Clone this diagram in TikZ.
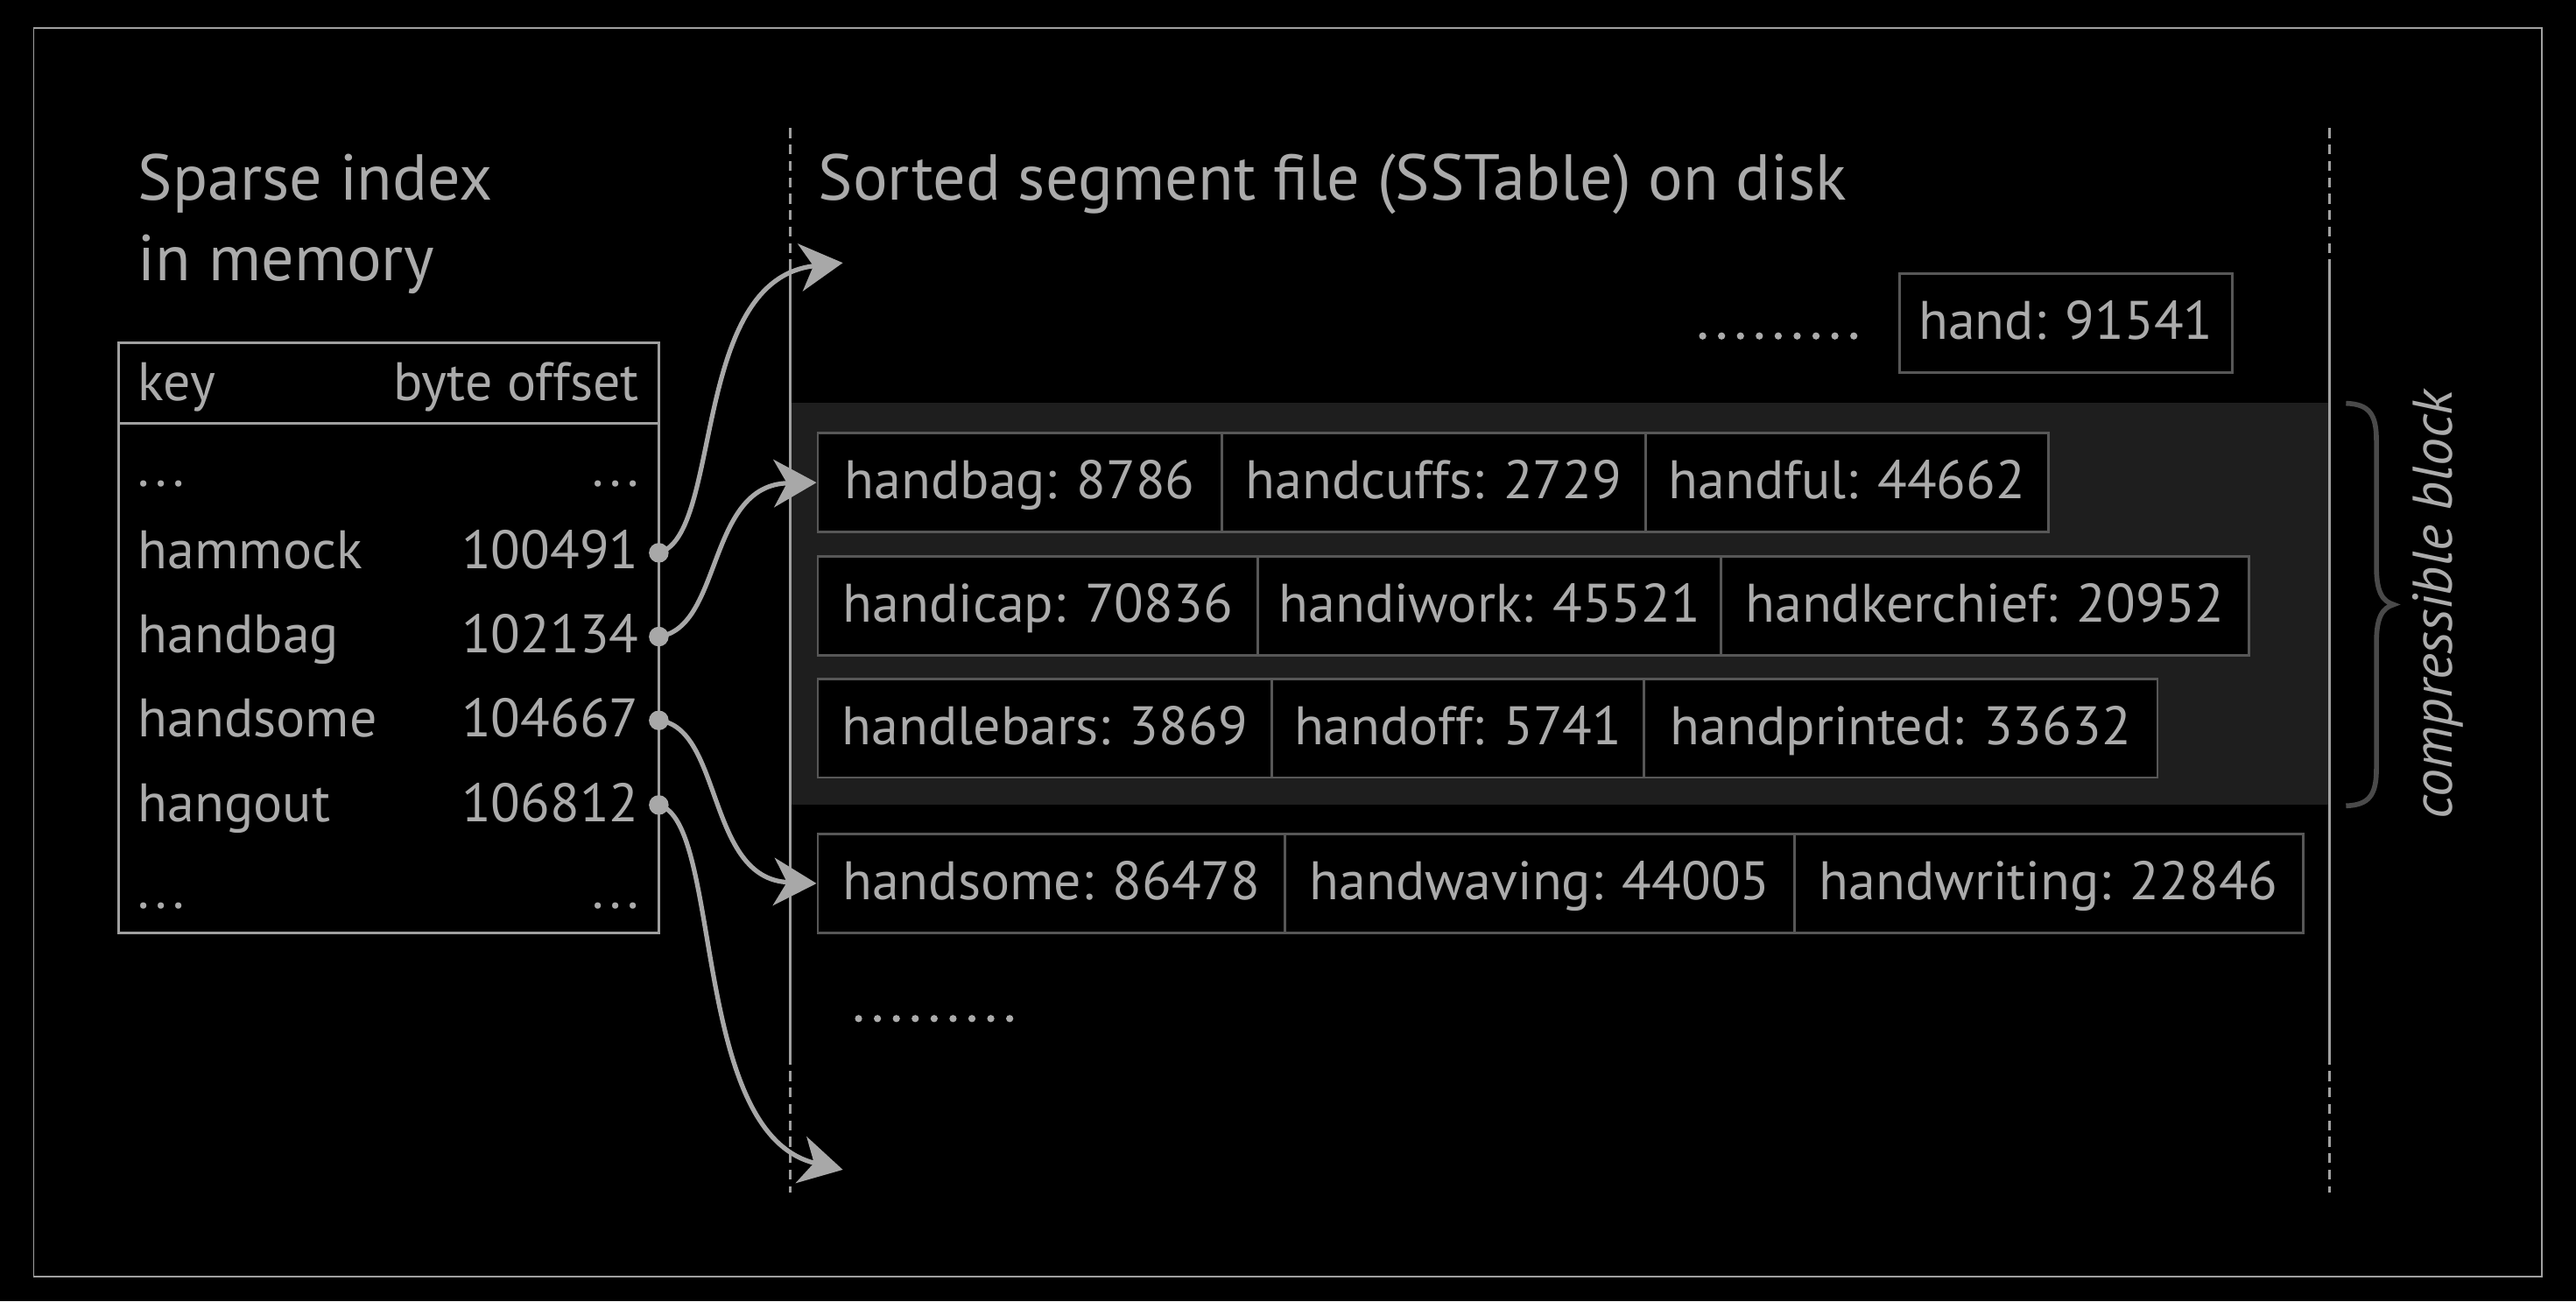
\documentclass[tikz,border=0pt]{standalone}
\usepackage{fontspec}
\setmainfont{PT Sans}
\usetikzlibrary{arrows.meta}
\definecolor{txt}{HTML}{ABABAB}
\definecolor{cellline}{HTML}{575757}
\definecolor{blockfill}{HTML}{1E1E1E}
\definecolor{bracec}{HTML}{4A4A4A}
\definecolor{framec}{HTML}{A0A0A0}
\definecolor{arrowc}{HTML}{A8A8A8}
\newcommand{\sdots}{.\hspace{3.5pt}.\hspace{3.5pt}.}
\tikzset{
  cell/.style={draw=cellline, line width=1.5pt, fill=black, text=txt, inner sep=0pt,
    minimum height=60pt, text height=25pt, text depth=5pt, anchor=north west,
    font=\fontsize{33}{38}\selectfont},
  idx/.style={text=txt, inner sep=0pt, font=\fontsize{33}{38}\selectfont},
  title/.style={text=txt, inner sep=0pt, font=\fontsize{39.5}{49}\selectfont, align=left},
  vline/.style={draw=framec, line width=1.2pt},
  vdash/.style={draw=framec, line width=1.2pt, dash pattern=on 6pt off 4pt},
  ptr/.style={draw=arrowc, line width=2.8pt, -{Stealth[length=26pt,width=29pt,inset=8pt]}},
  srcdot/.style={fill=arrowc},
  dotc/.style={fill=txt}
}
\begin{document}
\begin{tikzpicture}[x=1pt,y=-1pt]
\fill[black] (0,0) rectangle (1568,792);
\useasboundingbox (0,0) rectangle (1568,792);
% outer frame
\draw[framec, line width=1pt] (20.5,17) rectangle (1547,777);

% titles
\node[title, anchor=base west] (t1) at (84,171) {Sparse index\\in memory};
\node[title, anchor=base west] (t2) at (498,122) {Sorted segment file (SSTable) on disk};

% compressible block background
\fill[blockfill] (481,245) rectangle (1418,490);

% vertical lines
\draw[vdash] (481,78) -- (481,163);
\draw[vline] (481,163) -- (481,642);
\draw[vdash] (481,642) -- (481,726);
\draw[vdash] (1418,78) -- (1418,163);
\draw[vline] (1418,163) -- (1418,642);
\draw[vdash] (1418,642) -- (1418,726);

% index table
\draw[framec, line width=1.5pt] (72,208.5) rectangle (401,568);
\draw[framec, line width=1.5pt] (72,257.5) -- (401,257.5);
\node[idx, anchor=base west] (hk) at (84,244) {key};
\node[idx, anchor=base east] (hb) at (389,244) {byte offset};
\node[idx, anchor=base west] (r0k) at (84,296) {\sdots};
\node[idx, anchor=base east] (r0v) at (389,296) {\sdots};
\node[idx, anchor=base west] (r1k) at (84,346) {hammock};
\node[idx, anchor=base east] (r1v) at (389,346) {100491};
\node[idx, anchor=base west] (r2k) at (84,397.5) {handbag};
\node[idx, anchor=base east] (r2v) at (389,397.5) {102134};
\node[idx, anchor=base west] (r3k) at (84,448.5) {handsome};
\node[idx, anchor=base east] (r3v) at (389,448.5) {104667};
\node[idx, anchor=base west] (r4k) at (84,500) {hangout};
\node[idx, anchor=base east] (r4v) at (389,500) {106812};
\node[idx, anchor=base west] (r5k) at (84,553) {\sdots};
\node[idx, anchor=base east] (r5v) at (389,553) {\sdots};

\coordinate (p1) at (401,336.5);
\coordinate (p2) at (401,387.5);
\coordinate (p3) at (401,438.5);
\coordinate (p4) at (401,490);

% top entry
\foreach \i in {0,...,8} {\fill[dotc] (1036.4+11.5*\i,204.5) circle (2.2);}
\node[cell, minimum width=202.5pt] (hand) at (1155.5,166) {hand: 91541};

% row 1
\node[cell, minimum width=246pt] (c11) at (497,263) {handbag: 8786};
\node[cell, minimum width=258pt] (c12) at (743,263) {handcuffs: 2729};
\node[cell, minimum width=245pt] (c13) at (1001,263) {handful: 44662};
% row 2
\node[cell, minimum width=268pt] (c21) at (497,338) {handicap: 70836};
\node[cell, minimum width=282pt] (c22) at (765,338) {handiwork: 45521};
\node[cell, minimum width=321pt] (c23) at (1047,338) {handkerchief: 20952};
% row 3
\node[cell, minimum width=276.5pt] (c31) at (497,412.5) {handlebars: 3869};
\node[cell, minimum width=226.5pt] (c32) at (773.5,412.5) {handoff: 5741};
\node[cell, minimum width=312.5pt] (c33) at (1000,412.5) {handprinted: 33632};
% row 4
\node[cell, minimum width=284.5pt] (c41) at (497,507) {handsome: 86478};
\node[cell, minimum width=310pt] (c42) at (781.5,507) {handwaving: 44005};
\node[cell, minimum width=309.5pt] (c43) at (1091.5,507) {handwriting: 22846};

% bottom dots
\foreach \i in {0,...,8} {\fill[dotc] (522.6+11.5*\i,620) circle (2.2);}

% brace
\draw[bracec, line width=3pt] (1428,245.5) .. controls (1442,246) and (1446.5,252) .. (1446.5,268)
  -- (1446.5,345) .. controls (1446.5,360) and (1450,366) .. (1457,368)
  .. controls (1450,370) and (1446.5,376) .. (1446.5,391) -- (1446.5,468)
  .. controls (1446.5,484) and (1442,490) .. (1428,490.5);
\node[text=txt, inner sep=0pt, rotate=90, font=\fontsize{34}{40}\selectfont\itshape] (cb) at (1484,368) {compressible block};

% pointers
\coordinate (e1) at (513,160);
\coordinate (e4) at (513,712);
\draw[ptr] (p1) .. controls (440,326) and (420,170) .. (e1);
\draw[ptr] (p2) .. controls (440,382) and (430,295) .. (c11.west);
\draw[ptr] (p3) .. controls (440,443) and (430,535) .. (c41.west);
\draw[ptr] (p4) .. controls (440,500) and (420,690) .. (e4);
\foreach \p in {p1,p2,p3,p4} {\fill[srcdot] (\p) circle (6);}
\end{tikzpicture}
\end{document}
